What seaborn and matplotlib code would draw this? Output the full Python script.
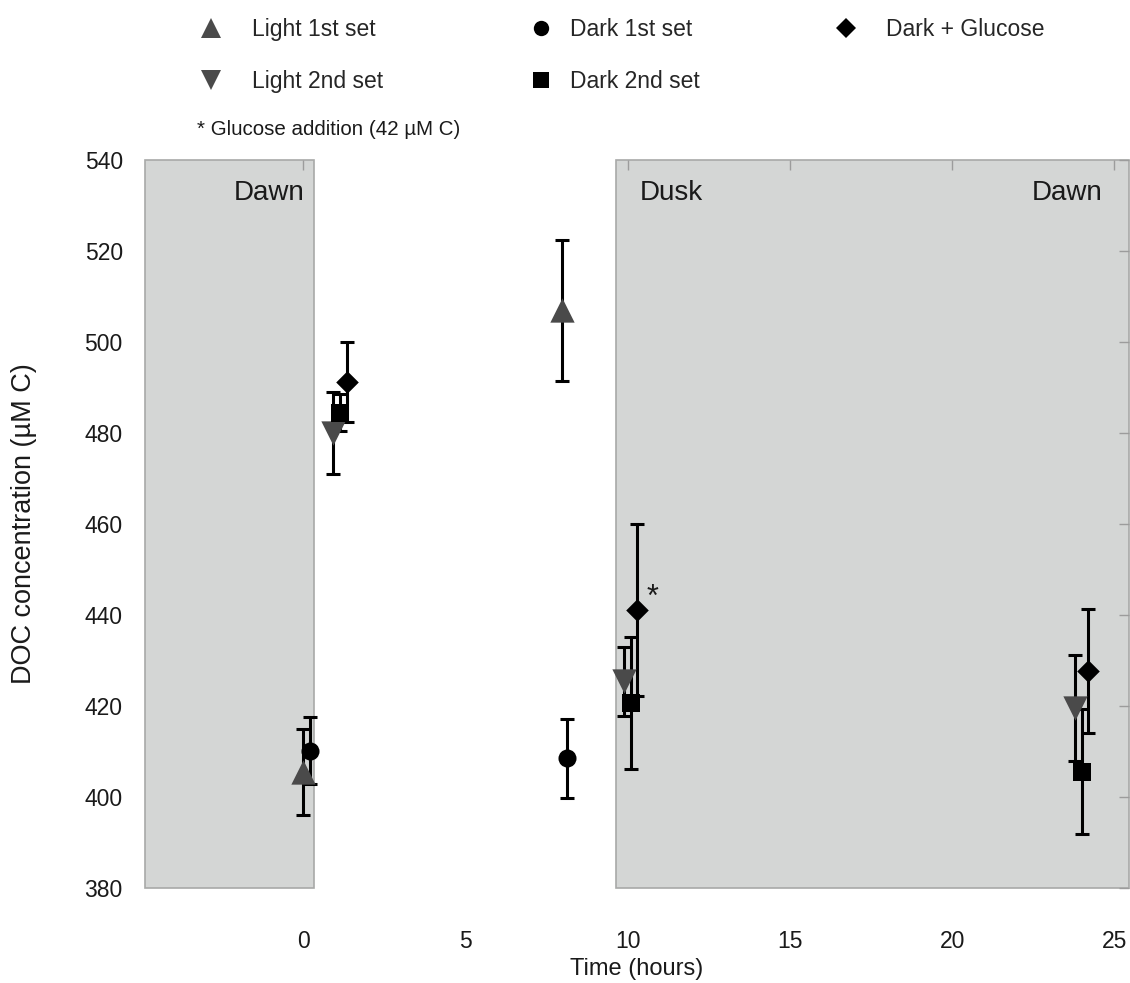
import matplotlib
matplotlib.use("Agg")
import matplotlib.pyplot as plt
from matplotlib.lines import Line2D
import seaborn as sns
import pandas as pd

# Sampling times (hours) and DOC concentration (µM C) with standard deviations
light1_time = [0.0, 7.97]
light1_doc = [405.5, 507.0]
light1_sd = [9.5, 15.5]

light2_time = [0.92, 9.9, 23.8]
light2_doc = [480.0, 425.4, 419.6]
light2_sd = [9.0, 7.6, 11.6]

dark1_time = [0.22, 8.12]
dark1_doc = [410.2, 408.5]
dark1_sd = [7.3, 8.7]

dark2_time = [1.14, 10.1, 24.0]
dark2_doc = [484.5, 420.7, 405.6]
dark2_sd = [4.0, 14.5, 13.7]

gluc_time = [1.35, 10.3, 24.2]
gluc_doc = [491.2, 441.1, 427.7]
gluc_sd = [8.8, 19.0, 13.6]

series_names = ["Light 1st set", "Light 2nd set", "Dark 1st set",
                "Dark 2nd set", "Dark + Glucose"]

# Night periods (hours) shaded in grey
dark_periods = [(-4.87, 0.35), (9.65, 25.45)]
phase_labels = ["Dawn", "Dusk", "Dawn"]

x_ticks = [0, 5, 10, 15, 20, 25]
y_ticks = [380, 400, 420, 440, 460, 480, 500, 520, 540]

rows = []
for name, t, v, s in zip(series_names,
                         [light1_time, light2_time, dark1_time, dark2_time, gluc_time],
                         [light1_doc, light2_doc, dark1_doc, dark2_doc, gluc_doc],
                         [light1_sd, light2_sd, dark1_sd, dark2_sd, gluc_sd]):
    for ti, vi, si in zip(t, v, s):
        rows.append({"series": name, "time": ti, "doc": vi, "sd": si})
df = pd.DataFrame(rows)

styles = {
    "Light 1st set": dict(marker="^", color="#4a4a4a", size=17.5),
    "Light 2nd set": dict(marker="v", color="#4a4a4a", size=17.5),
    "Dark 1st set": dict(marker="o", color="black", size=13),
    "Dark 2nd set": dict(marker="s", color="black", size=13),
    "Dark + Glucose": dict(marker="D", color="black", size=11.5),
}

sns.set_theme(style="white")
plt.rcParams["font.family"] = ["Liberation Sans", "DejaVu Sans"]
txt_color = "#1a1a1a"

fig = plt.figure(figsize=(11.3, 9.83), dpi=100)
ax = fig.add_axes([0.1283, 0.0966, 0.8708, 0.7406])

for x0, x1 in dark_periods:
    ax.axvspan(x0, x1, facecolor="#d4d6d5", edgecolor="#a8a9a8",
               linewidth=1.2, zorder=0, clip_on=False)

for name in series_names:
    sub = df[df["series"] == name]
    st = styles[name]
    ax.errorbar(sub["time"], sub["doc"], yerr=sub["sd"], fmt="none",
                ecolor="black", elinewidth=2.2, capsize=5, capthick=2.2,
                zorder=3)
    sns.scatterplot(data=sub, x="time", y="doc", ax=ax, marker=st["marker"],
                    color=st["color"], s=st["size"] ** 2, linewidth=0,
                    zorder=4, legend=False)

ax.set_xlim(dark_periods[0][0], dark_periods[1][1])
ax.set_ylim(y_ticks[0], y_ticks[-1])
ax.set_xticks(x_ticks)
ax.set_yticks(y_ticks)
for sp in ax.spines.values():
    sp.set_visible(False)

ax.tick_params(axis="both", which="both", direction="in", length=7, width=1,
               color="#9c9c9c", top=True, right=True, labelsize=16.5,
               labelcolor=txt_color)
ax.tick_params(axis="x", pad=30)
ax.tick_params(axis="y", pad=16)
for tick, val in zip(ax.xaxis.get_major_ticks(), x_ticks):
    if val == 5:
        tick.tick1line.set_visible(False)
        tick.tick2line.set_visible(False)

ax.set_xlabel("Time (hours)", fontsize=17, color=txt_color)
ax.set_ylabel("DOC concentration (µM C)", fontsize=19.5, color=txt_color)
ax.xaxis.set_label_coords(0.5, -0.096)
ax.yaxis.set_label_coords(-0.11, 0.5)

# Phase labels inside the shaded periods
ax.text(0.1624, 0.955, phase_labels[0], transform=ax.transAxes, ha="right",
        va="center", fontsize=20, color=txt_color)
ax.text(0.5025, 0.955, phase_labels[1], transform=ax.transAxes, ha="left",
        va="center", fontsize=20, color=txt_color)
ax.text(0.9726, 0.955, phase_labels[2], transform=ax.transAxes, ha="right",
        va="center", fontsize=20, color=txt_color)

# Glucose addition marker
ax.annotate("*", xy=(gluc_time[1], gluc_doc[1]), xytext=(11, 9),
            textcoords="offset points", fontsize=22, ha="center",
            va="center", color=txt_color)

# Legend, one column at a time
columns = [["Light 1st set", "Light 2nd set"],
           ["Dark 1st set", "Dark 2nd set"],
           ["Dark + Glucose"]]
col_x = [0.1766, 0.4687, 0.7386]
col_pad = [1.3, 0.78, 1.25]
for names, cx, pad in zip(columns, col_x, col_pad):
    handles = [Line2D([], [], linestyle="none", marker=styles[n]["marker"],
                      color=styles[n]["color"],
                      markersize=styles[n]["size"] * 0.85, markeredgewidth=0)
               for n in names]
    fig.legend(handles, names, loc="upper left", bbox_to_anchor=(cx, 1 - 18 / 983),
               frameon=False, fontsize=16.5, handlelength=1.0,
               handletextpad=pad, labelspacing=1.28, borderpad=0,
               borderaxespad=0)

fig.text(197 / 1130, 1 - 130 / 983, "* Glucose addition (42 µM C)",
         fontsize=14.8, va="center", ha="left", color=txt_color)

fig.savefig("out.png", dpi=100)
